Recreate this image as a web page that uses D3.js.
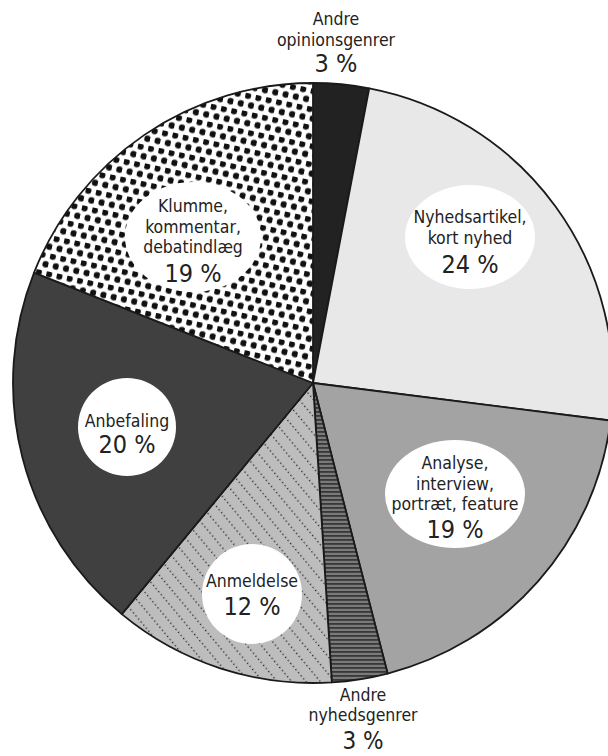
<!DOCTYPE html>
<html>
<head>
<meta charset="utf-8">
<script src="https://cdn.jsdelivr.net/npm/d3@7"></script>
<style>
  html, body { margin: 0; padding: 0; background: #fff; }
  svg { display: block; }
  text { font-family: "Liberation Sans Narrow", "DejaVu Sans Condensed", "Roboto Condensed", "Noto Sans", sans-serif; fill: #222; }
</style>
</head>
<body>
<svg id="chart" width="608" height="756"></svg>
<script>
// ---- data ----
const categories = [
  "Andre opinionsgenrer",
  "Nyhedsartikel, kort nyhed",
  "Analyse, interview, portræt, feature",
  "Andre nyhedsgenrer",
  "Anmeldelse",
  "Anbefaling",
  "Klumme, kommentar, debatindlæg"
];
const values = [3, 24, 19, 3, 12, 20, 19];
const labelLines = [
  ["Andre", "opinionsgenrer"],
  ["Nyhedsartikel,", "kort nyhed"],
  ["Analyse,", "interview,", "portræt, feature"],
  ["Andre", "nyhedsgenrer"],
  ["Anmeldelse"],
  ["Anbefaling"],
  ["Klumme,", "kommentar,", "debatindlæg"]
];
const pctLabels = ["3 %", "24 %", "19 %", "3 %", "12 %", "20 %", "19 %"];

// ---- styling / layout ----
const fills = ["#222222", "#e8e8e8", "#a3a3a3", "url(#hstripes)", "url(#dotlines)", "#404040", "url(#dots)"];
// label layout relative to pie centre: text centre x, first baseline y, line step, pct gap, pct size, bubble
const labelLayout = [
  { tx: 23, ty: -358, step: 20.5, pctGap: 26, pctSize: 25, bubble: null },
  { tx: 157, ty: -160, step: 20.5, pctGap: 29, pctSize: 25, bubble: [157, -146, 65, 52] },
  { tx: 142, ty: 86, step: 20.5, pctGap: 28, pctSize: 25, bubble: [142, 111, 70, 54] },
  { tx: 50, ty: 318, step: 19.5, pctGap: 28, pctSize: 24, bubble: null },
  { tx: -61, ty: 204, step: 20.5, pctGap: 28, pctSize: 25, bubble: [-61, 211, 50, 50] },
  { tx: -186, ty: 44, step: 20.5, pctGap: 26, pctSize: 25, bubble: [-186, 44, 49, 49] },
  { tx: -120, ty: -171, step: 20.5, pctGap: 29, pctSize: 25, bubble: [-120, -146, 68, 55] }
];

const svg = d3.select("#chart");
const cx = 313, cy = 383, R = 300;

// patterns
const defs = svg.append("defs");
const hp = defs.append("pattern").attr("id", "hstripes")
  .attr("patternUnits", "userSpaceOnUse").attr("width", 8).attr("height", 4);
hp.append("rect").attr("width", 8).attr("height", 4).attr("fill", "#7a7a7a");
hp.append("rect").attr("y", 0).attr("width", 8).attr("height", 1.8).attr("fill", "#383838");

const dl = defs.append("pattern").attr("id", "dotlines")
  .attr("patternUnits", "userSpaceOnUse").attr("width", 11).attr("height", 4)
  .attr("patternTransform", "rotate(-40)");
dl.append("rect").attr("width", 11).attr("height", 4).attr("fill", "#bdbdbd");
dl.append("rect").attr("x", 0).attr("y", 0).attr("width", 1.3).attr("height", 1.3).attr("fill", "#222");

const dp = defs.append("pattern").attr("id", "dots")
  .attr("patternUnits", "userSpaceOnUse").attr("width", 10.5).attr("height", 18)
  .attr("patternTransform", "rotate(12)");
dp.append("rect").attr("width", 10.5).attr("height", 18).attr("fill", "#fff");
dp.append("circle").attr("cx", 2.6).attr("cy", 2.6).attr("r", 3.25).attr("fill", "#111");
dp.append("circle").attr("cx", 7.85).attr("cy", 11.6).attr("r", 3.25).attr("fill", "#111");

const g = svg.append("g").attr("transform", `translate(${cx},${cy})`);

const pie = d3.pie().sort(null).value(d => d)(values);
const arc = d3.arc().innerRadius(0).outerRadius(R);

g.selectAll("path.slice").data(pie).join("path")
  .attr("class", "slice")
  .attr("d", arc)
  .attr("fill", (d, i) => fills[i])
  .attr("stroke", "#1a1a1a")
  .attr("stroke-width", 1.8)
  .attr("stroke-linejoin", "round");

// labels
const lg = g.selectAll("g.label").data(pie).join("g").attr("class", "label");
lg.each(function (d, i) {
  const sel = d3.select(this);
  const L = labelLayout[i];
  if (L.bubble) {
    sel.append("ellipse")
      .attr("cx", L.bubble[0]).attr("cy", L.bubble[1])
      .attr("rx", L.bubble[2]).attr("ry", L.bubble[3])
      .attr("fill", "#fff");
  }
  const lines = labelLines[i];
  lines.forEach((ln, k) => {
    sel.append("text")
      .attr("x", L.tx).attr("y", L.ty + k * L.step)
      .attr("text-anchor", "middle")
      .attr("font-size", 17.5)
      .text(ln);
  });
  sel.append("text")
    .attr("x", L.tx).attr("y", L.ty + (lines.length - 1) * L.step + L.pctGap)
    .attr("text-anchor", "middle")
    .attr("font-size", L.pctSize)
    .text(pctLabels[i]);
});
</script>
</body>
</html>
